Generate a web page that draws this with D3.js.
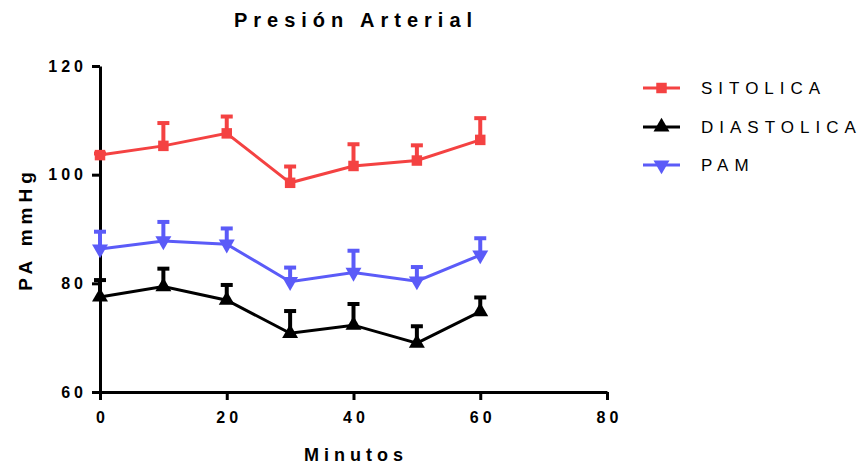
<!DOCTYPE html>
<html lang="es">
  <head>
    <meta charset="utf-8">
    <title>Presión Arterial</title>
    <style>
      body { margin: 0; background: white; }
      svg { display: block; font-family: "Liberation Sans", Arial, sans-serif; }
      .tick text { font-weight: bold; font-size: 16px; letter-spacing: 4px; }
    </style>
    <script src="https://d3js.org/d3.v7.min.js"></script>
  </head>
  <body>
    <div class="viz"></div>
    <script>
    const minutos = [0, 10, 20, 30, 40, 50, 60];
    const sitolica = [103.6, 105.3, 107.6, 98.5, 101.6, 102.6, 106.4];
    const sitolicaErr = [0.3, 4.2, 3.1, 3.0, 4.0, 2.8, 4.0];
    const diastolica = [77.5, 79.4, 76.9, 70.8, 72.3, 69.0, 74.8];
    const diastolicaErr = [3.1, 3.3, 2.8, 4.1, 3.9, 3.1, 2.6];
    const pam = [86.3, 87.8, 87.2, 80.3, 82.0, 80.4, 85.2];
    const pamErr = [3.2, 3.5, 2.9, 2.6, 4.0, 2.6, 3.1];
    const xTicks = [0, 20, 40, 60, 80];
    const yTicks = [60, 80, 100, 120];

    const series = [
      { name: "SITOLICA", values: sitolica, err: sitolicaErr, color: "#f44242", symbol: d3.symbolSquare, size: 110, rot: 0 },
      { name: "DIASTOLICA", values: diastolica, err: diastolicaErr, color: "#000000", symbol: d3.symbolTriangle, size: 110, rot: 0 },
      { name: "PAM", values: pam, err: pamErr, color: "#5b5bf8", symbol: d3.symbolTriangle, size: 110, rot: 180 }
    ];

    const width = 864, height = 467;
    const svg = d3.select(".viz").append("svg")
      .attr("width", width).attr("height", height);

    const x = d3.scaleLinear().domain([0, 80]).range([100, 607]);
    const y = d3.scaleLinear().domain([60, 120]).range([392, 66]);

    svg.append("text")
      .attr("x", 356).attr("y", 27)
      .attr("text-anchor", "middle")
      .style("font-weight", "bold").style("font-size", "20px").style("letter-spacing", "6px")
      .text("Presión Arterial");

    const xAxis = svg.append("g")
      .attr("transform", "translate(0,392)")
      .call(d3.axisBottom(x).tickValues(xTicks).tickSize(8).tickPadding(8).tickSizeOuter(0));
    const yAxis = svg.append("g")
      .attr("transform", "translate(100,0)")
      .call(d3.axisLeft(y).tickValues(yTicks).tickSize(8).tickPadding(5).tickSizeOuter(0));
    [xAxis, yAxis].forEach(g => {
      g.select(".domain").attr("stroke-width", 3);
      g.selectAll(".tick line").attr("stroke-width", 3);
      g.selectAll(".tick text").attr("fill", "#000");
    });
    xAxis.selectAll(".tick text").attr("dx", "2px").attr("dy", "0.95em");

    svg.append("text")
      .attr("x", 356).attr("y", 461)
      .attr("text-anchor", "middle")
      .style("font-weight", "bold").style("font-size", "18px").style("letter-spacing", "5px")
      .text("Minutos");

    svg.append("text")
      .attr("transform", "translate(32,229) rotate(-90)")
      .attr("text-anchor", "middle")
      .style("font-weight", "bold").style("font-size", "19px").style("letter-spacing", "5px")
      .text("PA mmHg");

    const line = d3.line().x((d, i) => x(minutos[i])).y(d => y(d));

    series.forEach(s => {
      const g = svg.append("g");
      g.append("path")
        .attr("d", line(s.values))
        .attr("fill", "none").attr("stroke", s.color).attr("stroke-width", 3);
      // upper error bars
      s.values.forEach((v, i) => {
        const cx = x(minutos[i]);
        g.append("line")
          .attr("x1", cx).attr("x2", cx)
          .attr("y1", y(v)).attr("y2", y(v + s.err[i]))
          .attr("stroke", s.color).attr("stroke-width", 4);
        g.append("line")
          .attr("x1", cx - 6).attr("x2", cx + 6)
          .attr("y1", y(v + s.err[i])).attr("y2", y(v + s.err[i]))
          .attr("stroke", s.color).attr("stroke-width", 4);
      });
      g.selectAll("path.sym")
        .data(s.values)
        .join("path")
        .attr("class", "sym")
        .attr("transform", (d, i) => `translate(${x(minutos[i])},${y(d)}) rotate(${s.rot})`)
        .attr("d", d3.symbol().type(s.symbol).size(s.size))
        .attr("fill", s.color);
    });

    // legend
    const legend = svg.append("g");
    series.forEach((s, i) => {
      const ly = [88, 127, 165][i];
      const lg = legend.append("g").attr("transform", `translate(0,${ly})`);
      lg.append("line").attr("x1", 643).attr("x2", 680).attr("y1", 0).attr("y2", 0)
        .attr("stroke", s.color).attr("stroke-width", 3);
      lg.append("path")
        .attr("transform", `translate(661.5,0) rotate(${s.rot})`)
        .attr("d", d3.symbol().type(s.symbol).size(s.size))
        .attr("fill", s.color);
      lg.append("text")
        .attr("x", 701).attr("y", 0).attr("dy", "0.36em")
        .style("font-size", "17px").style("letter-spacing", "6px")
        .text(s.name);
    });
    </script>
  </body>
</html>
